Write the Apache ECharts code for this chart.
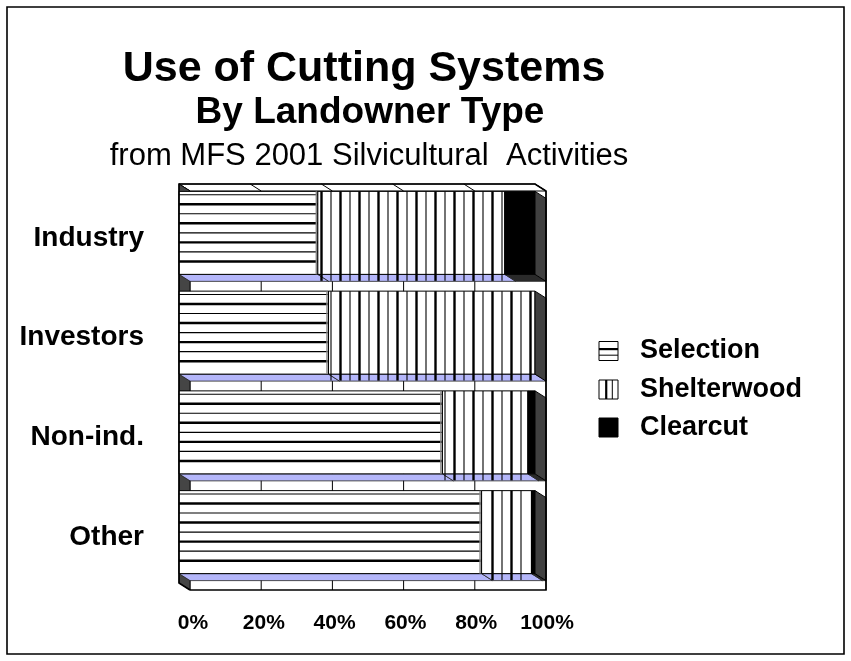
<!DOCTYPE html>
<html>
<head>
<meta charset="utf-8">
<title>Use of Cutting Systems</title>
<script src="https://cdn.jsdelivr.net/npm/echarts@6/dist/echarts.min.js"></script>
<style>
  html, body { margin: 0; padding: 0; background: #fff; }
  #chart { width: 851px; height: 661px; }
</style>
</head>
<body>
<div id="chart"></div>
<script>
// Share of harvest area by cutting system, per landowner type (percent)
const categories = ['Industry', 'Investors', 'Non-ind.', 'Other'];
const seriesNames = ['Selection', 'Shelterwood', 'Clearcut'];
const selection = [39, 42, 74, 85];
const shelterwood = [52.5, 58, 24, 14];
const clearcut = [8.5, 0, 2, 1];
const tickLabels = ['0%', '20%', '40%', '60%', '80%', '100%'];
const titleLines = ['Use of Cutting Systems', 'By Landowner Type', 'from MFS 2001 Silvicultural  Activities'];

const FONT = '"Liberation Sans", Arial, Helvetica, sans-serif';
// pseudo-3D depth of the bars (screen offset of the back faces)
const DX = 11, DY = 7;
const LAVENDER = '#b4b6fa';
const SIDE = '#404040';

const valueSets = [selection, shelterwood, clearcut];

// stacked segments: [end, categoryIndex, start, isLastVisibleSegment]
function buildSegments(k) {
  return categories.map((c, i) => {
    let start = 0;
    for (let j = 0; j < k; j++) start += valueSets[j][i];
    const v = valueSets[k][i];
    let last = 1;
    for (let j = k + 1; j < valueSets.length; j++) if (valueSets[j][i] > 0) last = 0;
    return [start + v, i, start, last];
  });
}

function segmentRenderer(kind) {
  return function (params, api) {
    const end = api.value(0), cat = api.value(1), start = api.value(2), last = api.value(3);
    if (end - start <= 0) return null;
    const pStart = api.coord([start, cat]);
    const pEnd = api.coord([end, cat]);
    const origin = api.coord([0, cat])[0];
    const band = api.size([0, 1])[1];
    const h = band * 0.832;
    const x0 = pStart[0], x1 = pEnd[0];
    const yt = pStart[1] - h / 2 - 1, yb = yt + h;
    const children = [];
    // underside
    children.push({
      type: 'polygon',
      shape: { points: [[x0, yb], [x1, yb], [x1 + DX, yb + DY], [x0 + DX, yb + DY]] },
      style: { fill: kind === 'Clearcut' ? '#2a2a2a' : LAVENDER, stroke: '#222', lineWidth: 0.8 }
    });
    // front face
    children.push({
      type: 'rect',
      shape: { x: x0, y: yt, width: x1 - x0, height: yb - yt },
      style: { fill: kind === 'Clearcut' ? '#000' : '#fff', stroke: '#000', lineWidth: 1 }
    });
    if (kind === 'Selection') {
      const step = h / 8.7;
      for (let j = 0; j < 8; j++) {
        const y = yt + 3.3 + j * step;
        children.push({
          type: 'line',
          shape: { x1: x0, y1: y, x2: x1, y2: y },
          style: { stroke: '#000', lineWidth: j % 2 ? 2.4 : 1.1 }
        });
      }
      // grey inner edge along the right border
      children.push({
        type: 'line',
        shape: { x1: x1 - 1.5, y1: yt, x2: x1 - 1.5, y2: yb },
        style: { stroke: '#888', lineWidth: 1.5 }
      });
    } else if (kind === 'Shelterwood') {
      const step = 9.5;
      let k = Math.ceil((x0 + 2 - origin) / step);
      for (; origin + k * step < x1 - 1.5; k++) {
        const x = origin + k * step;
        children.push({
          type: 'line',
          shape: { x1: x, y1: yt, x2: x, y2: yb + DY - 0.5 },
          style: { stroke: '#000', lineWidth: k % 2 ? 2.4 : 1.1 }
        });
      }
    }
    // right-hand end face of the whole bar
    if (last) {
      children.push({
        type: 'polygon',
        shape: { points: [[x1, yt], [x1 + DX, yt + DY], [x1 + DX, yb + DY], [x1, yb]] },
        style: { fill: SIDE, stroke: '#000', lineWidth: 1 }
      });
    }
    return { type: 'group', children: children };
  };
}

// back wall, floor and top strip of the plot box
function frameBack(params, api) {
  const cs = params.coordSys;
  const T = cs.y, B = cs.y + cs.height;
  const children = [];
  const X0 = api.coord([0, 0])[0], X1 = api.coord([100, 0])[0];
  children.push({
    type: 'rect',
    shape: { x: X0 + DX, y: T + DY, width: X1 - X0, height: B - T },
    style: { fill: '#fff' }
  });
  tickLabels.forEach((t, k) => {
    const x = api.coord([k * 20, 0])[0];
    children.push({
      type: 'line',
      shape: { x1: x + DX, y1: T + DY, x2: x + DX, y2: B + DY },
      style: { stroke: '#000', lineWidth: 1 }
    });
  });
  // top strip
  children.push({
    type: 'polygon',
    shape: { points: [[X0, T], [X1, T], [X1 + DX, T + DY], [X0 + DX, T + DY]] },
    style: { fill: '#fff', stroke: '#000', lineWidth: 1 }
  });
  tickLabels.forEach((t, k) => {
    const x = api.coord([k * 20, 0])[0];
    children.push({
      type: 'line',
      shape: { x1: x, y1: T, x2: x + DX, y2: T + DY },
      style: { stroke: '#000', lineWidth: 1 }
    });
  });
  // floor on the category side
  children.push({
    type: 'polygon',
    shape: { points: [[X0, T], [X0 + DX, T + DY], [X0 + DX, B + DY], [X0, B]] },
    style: { fill: '#454545', stroke: '#000', lineWidth: 0.8 }
  });
  return { type: 'group', children: children };
}

function frameEdges(params, api) {
  const cs = params.coordSys;
  const T = cs.y, B = cs.y + cs.height;
  const X0 = api.coord([0, 0])[0], X1 = api.coord([100, 0])[0];
  return {
    type: 'group',
    children: [
      { type: 'polyline', shape: { points: [[X0 + DX, B + DY], [X0, B], [X0, T], [X1, T], [X1 + DX, T + DY], [X1 + DX, B + DY], [X0 + DX, B + DY]] },
        style: { fill: null, stroke: '#000', lineWidth: 1.6 } }
    ]
  };
}

const series = [
  { type: 'custom', name: 'frame', renderItem: frameBack, data: [[0, 0]], encode: { x: 0, y: 1 }, z: 1, silent: true, clip: false }
];
seriesNames.forEach((name, k) => {
  series.push({
    type: 'custom', name: name, renderItem: segmentRenderer(name),
    data: buildSegments(k), encode: { x: [0, 2], y: 1 }, z: 2 + k, silent: true, clip: false
  });
});
series.push({ type: 'custom', name: 'edges', renderItem: frameEdges, data: [[0, 0]], encode: { x: 0, y: 1 }, z: 10, silent: true, clip: false });

// legend swatches
const legendY = [351, 389.5, 427.5];
const legendGraphics = [];
seriesNames.forEach((name, i) => {
  const cy = legendY[i];
  const s = 19, lx = 599, ly = cy - s / 2;
  const kids = [{ type: 'rect', shape: { x: 0, y: 0, width: s, height: s },
    style: { fill: name === 'Clearcut' ? '#000' : '#fff', stroke: '#000', lineWidth: 1 } }];
  if (name === 'Selection') {
    kids.push({ type: 'line', shape: { x1: 0, y1: s * 0.4, x2: s, y2: s * 0.4 }, style: { stroke: '#000', lineWidth: 2.2 } });
    kids.push({ type: 'line', shape: { x1: 0, y1: s * 0.72, x2: s, y2: s * 0.72 }, style: { stroke: '#000', lineWidth: 1 } });
  } else if (name === 'Shelterwood') {
    kids.push({ type: 'line', shape: { x1: s * 0.38, y1: 0, x2: s * 0.38, y2: s }, style: { stroke: '#000', lineWidth: 2.2 } });
    kids.push({ type: 'line', shape: { x1: s * 0.7, y1: 0, x2: s * 0.7, y2: s }, style: { stroke: '#000', lineWidth: 1 } });
  }
  legendGraphics.push({ type: 'group', x: lx, y: ly, children: kids });
  legendGraphics.push({ type: 'text', x: 640, y: cy,
    style: { text: name, font: 'bold 27px ' + FONT, fill: '#000', textAlign: 'left', textVerticalAlign: 'middle' } });
});

const titleGraphics = [
  { type: 'text', x: 364, y: 69, style: { text: titleLines[0], font: 'bold 43px ' + FONT, fill: '#000', textAlign: 'center', textVerticalAlign: 'middle' } },
  { type: 'text', x: 370, y: 113, style: { text: titleLines[1], font: 'bold 37px ' + FONT, fill: '#000', textAlign: 'center', textVerticalAlign: 'middle' } },
  { type: 'text', x: 369, y: 156, style: { text: titleLines[2], font: '31px ' + FONT, fill: '#000', textAlign: 'center', textVerticalAlign: 'middle' } }
];

const chart = echarts.init(document.getElementById('chart'));
chart.setOption({
  backgroundColor: '#fff',
  animation: false,
  grid: [
    { left: 179, right: 316, top: 184, bottom: 78 },
    // companion grid carrying the tick and category labels, set on the depth plane
    { left: 193, right: 304, top: 188, bottom: 74 }
  ],
  xAxis: [
    { type: 'value', gridIndex: 0, min: 0, max: 100, interval: 20,
      axisLine: { show: false }, axisTick: { show: false }, axisLabel: { show: false }, splitLine: { show: false } },
    { type: 'value', gridIndex: 1, min: 0, max: 100, interval: 20,
      axisLine: { show: false }, axisTick: { show: false }, splitLine: { show: false },
      axisLabel: { margin: 26, color: '#000', fontWeight: 'bold', fontSize: 21, fontFamily: FONT,
        formatter: (v) => tickLabels[Math.round(v / 20)] } }
  ],
  yAxis: [
    { type: 'category', gridIndex: 0, data: categories, inverse: true, show: false },
    { type: 'category', gridIndex: 1, data: categories, inverse: true,
      axisLine: { show: false }, axisTick: { show: false }, splitLine: { show: false },
      axisLabel: { margin: 49, color: '#000', fontWeight: 'bold', fontSize: 28, fontFamily: FONT } }
  ],
  series: series,
  graphic: [
    { type: 'rect', shape: { x: 7, y: 7, width: 837, height: 647 }, style: { fill: null, stroke: '#000', lineWidth: 1.6 }, z: 0 }
  ].concat(titleGraphics, legendGraphics)
});
</script>
</body>
</html>
